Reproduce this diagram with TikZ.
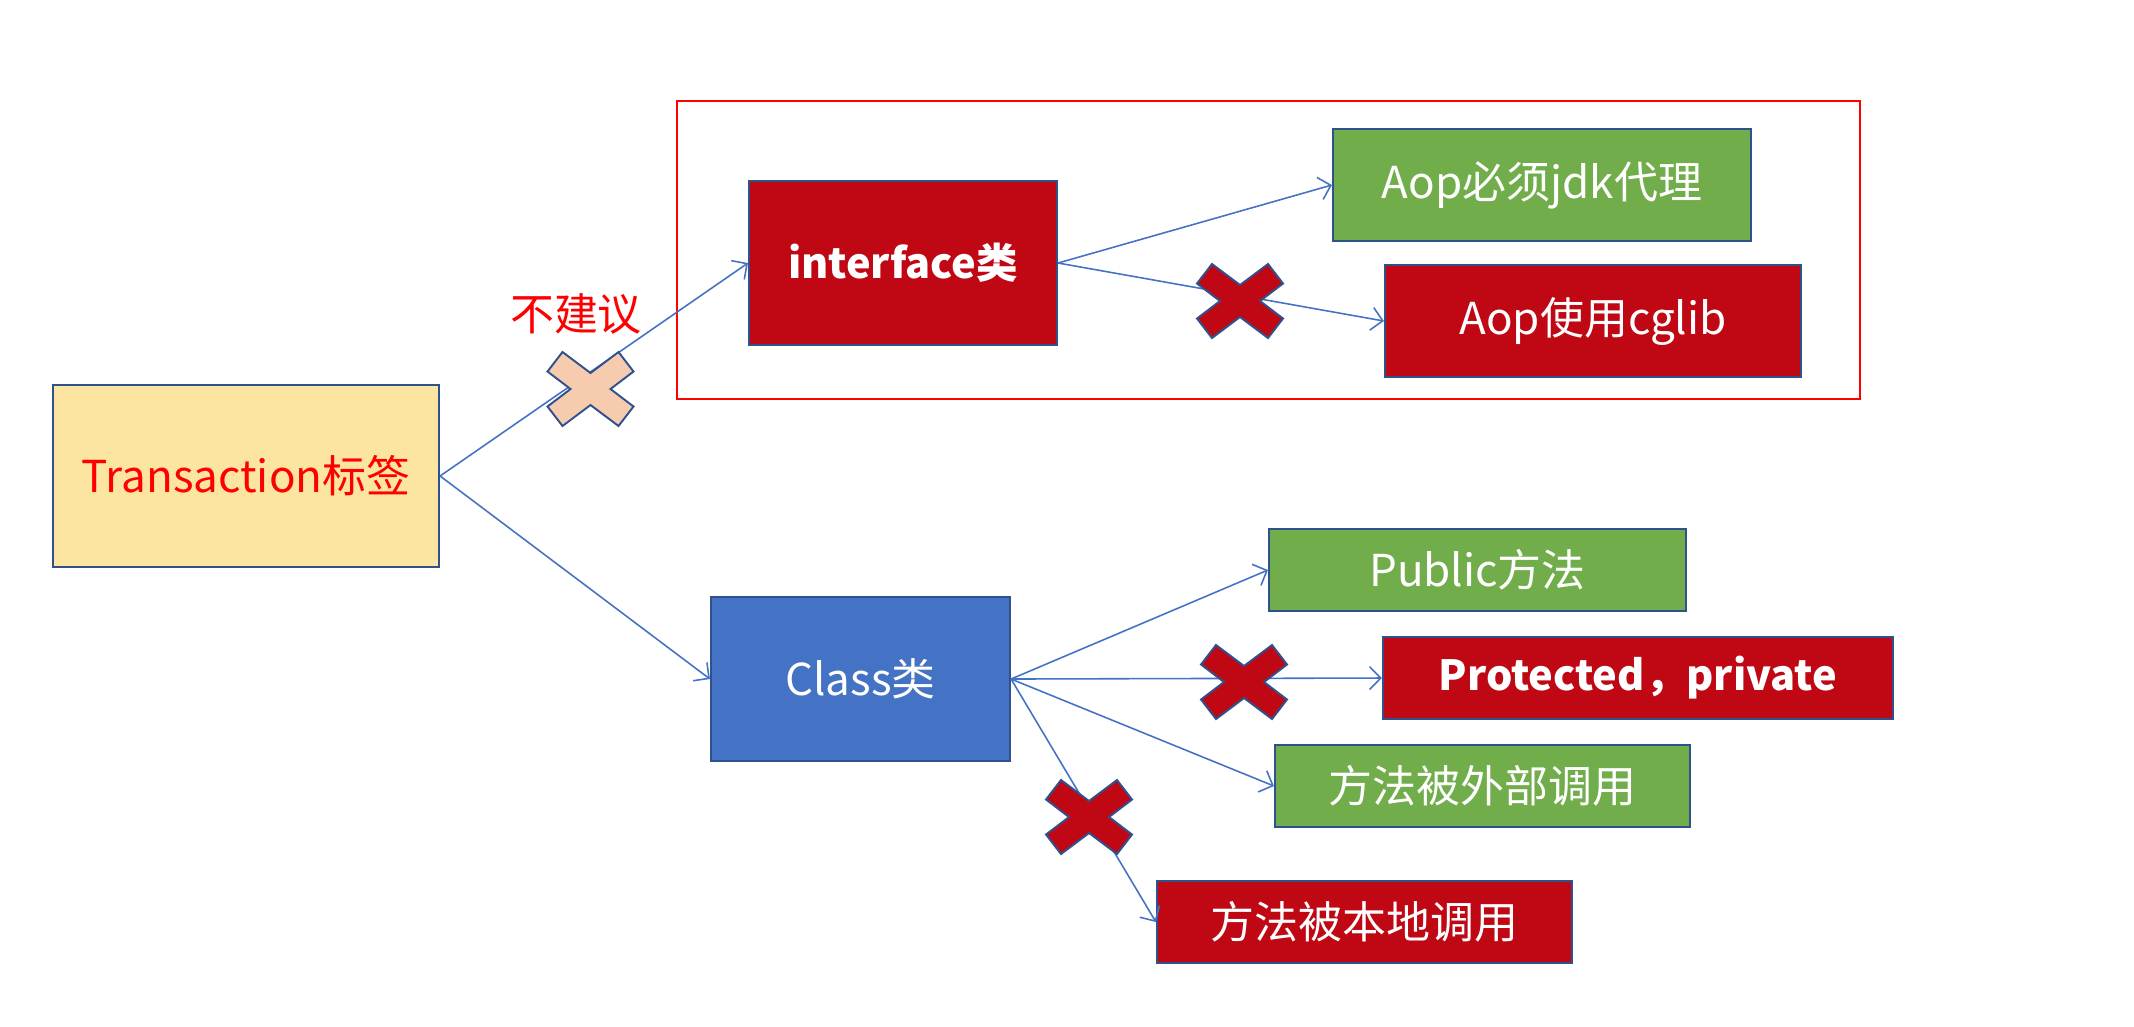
\documentclass[tikz,border=0pt]{standalone}
\usepackage{fontspec}
\usepackage{xcolor}
\usepackage{tikz}
\usetikzlibrary{positioning,arrows.meta}
\newfontfamily\cjk{Noto Sans CJK SC}

\definecolor{boxline}{HTML}{2F528F}
\definecolor{tagyellow}{HTML}{FBE5A0}
\definecolor{darkred}{HTML}{BF0813}
\definecolor{okgreen}{HTML}{72AD4B}
\definecolor{classblue}{HTML}{4472C4}
\definecolor{linkblue}{HTML}{4472C4}
\definecolor{crosspink}{HTML}{F6CBAE}

\tikzset{
  box/.style={draw=boxline,line width=0.55pt,text=white,inner sep=0pt,
    font=\cjk\fontsize{12.5}{15}\selectfont},
  boldbox/.style={box,font=\cjk\bfseries\fontsize{11.8}{14}\selectfont},
  link/.style={draw=linkblue,line width=0.45pt,-{Straight Barb[length=3.2pt,width=6.5pt]}},
  crossmark/.style={draw=boxline,line width=0.55pt,line join=miter}
}

% cross shape, #1 = centre, #2 = fill colour
\newcommand\drawcross[2]{%
  \draw[crossmark,fill=#2,shift={(#1)}] (-28,-37) -- (0,-16) -- (28,-37) -- (43,-17.5)
    -- (20,0) -- (43,17.5) -- (28,37) -- (0,16) -- (-28,37) -- (-43,17.5)
    -- (-20,0) -- (-43,-17.5) -- cycle ;}

\begin{document}
\begin{tikzpicture}[x=0.01cm,y=-0.01cm]

\useasboundingbox (0,0) rectangle (2134,1026) ;

\draw[red,line width=0.45pt] (677,101) rectangle (1860,399) ;

\node[box,fill=tagyellow,text=red,minimum width=3.86cm,minimum height=1.82cm] (trans) at (246,476) { Transaction标签 } ;
\node[boldbox,fill=darkred,minimum width=3.08cm,minimum height=1.64cm] (iface) at (903,263) { interface类 } ;
\node[box,fill=okgreen,minimum width=4.18cm,minimum height=1.12cm] (jdk) at (1542,185) { Aop必须jdk代理 } ;
\node[box,fill=darkred,minimum width=4.16cm,minimum height=1.12cm] (cglib) at (1593,321) { Aop使用cglib } ;
\node[box,fill=classblue,minimum width=2.99cm,minimum height=1.64cm] (cls) at (860.5,679) { Class类 } ;
\node[box,fill=okgreen,minimum width=4.17cm,minimum height=0.82cm] (pub) at (1477.5,570) { Public方法 } ;
\node[boldbox,fill=darkred,minimum width=5.10cm,minimum height=0.82cm] (prot) at (1638,678) { Protected，private } ;
\node[box,fill=okgreen,minimum width=4.15cm,minimum height=0.82cm] (ext) at (1482.5,786) { 方法被外部调用 } ;
\node[box,fill=darkred,minimum width=4.15cm,minimum height=0.82cm] (local) at (1364.5,922) { 方法被本地调用 } ;

\node[text=red,font=\cjk\fontsize{12.5}{15}\selectfont] (advice) at (576,314) { 不建议 } ;

\draw[link] (trans.east) -- (iface.west) ;
\draw[link] (trans.east) -- (cls.west) ;
\draw[link] (iface.east) -- (jdk.west) ;
\draw[link] (iface.east) -- (cglib.west) ;
\draw[link] (cls.east) -- (pub.west) ;
\draw[link] (cls.east) -- (prot.west) ;
\draw[link] (cls.east) -- (ext.west) ;
\draw[link] (cls.east) -- (local.west) ;

\drawcross{590.5,389}{crosspink}
\drawcross{1240,301}{darkred}
\drawcross{1244,682}{darkred}
\drawcross{1089,817}{darkred}

\end{tikzpicture}
\end{document}
